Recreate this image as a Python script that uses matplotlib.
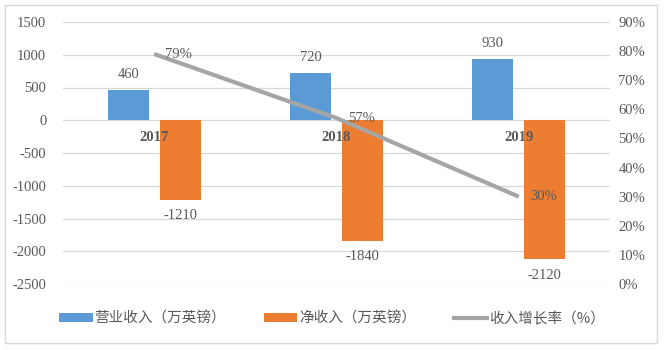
import matplotlib
matplotlib.use("Agg")
import matplotlib.pyplot as plt
import numpy as np
from matplotlib.lines import Line2D
from matplotlib.patches import Patch, Rectangle

years = ["2017", "2018", "2019"]
revenue = [460, 720, 930]          # 营业收入（万英镑）
net_income = [-1210, -1840, -2120]  # 净收入（万英镑）
growth = [79, 57, 30]              # 收入增长率（%）

left_ticks = [-2500, -2000, -1500, -1000, -500, 0, 500, 1000, 1500]
right_ticks = [0, 10, 20, 30, 40, 50, 60, 70, 80, 90]

BLUE = "#5B9BD5"
ORANGE = "#ED7D31"
GRAY = "#A5A5A5"
TXT = "#595959"
GRID = "#D9D9D9"
SERIF = ["Liberation Serif", "DejaVu Serif"]
CJK = ["Noto Sans CJK SC", "DejaVu Sans"]

fig = plt.figure(figsize=(6.66, 3.5), dpi=100)
ax = fig.add_axes([63 / 666, 1 - 284 / 350, 547 / 666, 262 / 350])
ax2 = ax.twinx()

x = np.arange(len(years))
w = 0.225
gap = 0.03
ax.bar(x - w / 2 - gap, revenue, w, color=BLUE, zorder=3)
ax.bar(x + w / 2 + gap, net_income, w, color=ORANGE, zorder=3)

ax.set_xlim(-0.5, 2.5)
ax.set_ylim(-2500, 1500)
ax.set_yticks(left_ticks)
ax.set_yticklabels([str(t) for t in left_ticks], family=SERIF, fontsize=10.5, color=TXT)
ax.tick_params(axis="y", length=0, pad=12)
ax.set_xticks([])
ax.grid(axis="y", color=GRID, linewidth=0.9, zorder=0)
for s in ax.spines.values():
    s.set_visible(False)

# value labels on bars
for xi, v in zip(x, revenue):
    ax.annotate(str(v), (xi - w / 2 - gap, v), xytext=(0, 6.5), textcoords="offset points",
                ha="center", va="bottom", family=SERIF, fontsize=10.5, color=TXT, zorder=5)
for xi, v in zip(x, net_income):
    ax.annotate(str(v), (xi + w / 2 + gap, v), xytext=(0, -7), textcoords="offset points",
                ha="center", va="top", family=SERIF, fontsize=10.5, color=TXT, zorder=5)

# category labels sit just below the zero line
for xi, y in zip(x, years):
    ax.text(xi, -265, y, ha="center", va="center", family=SERIF, fontsize=10.5,
            fontweight="bold", color=TXT, zorder=6)

ax2.plot(x, growth, color=GRAY, linewidth=3, solid_capstyle="butt", zorder=4)
for xi, g in zip(x, growth):
    ax2.annotate(f"{g}%", (xi, g), xytext=(8, 0), textcoords="offset points",
                 ha="left", va="center", family=SERIF, fontsize=10.5, color=TXT, zorder=6)
ax2.set_ylim(0, 90)
ax2.set_yticks(right_ticks)
ax2.set_yticklabels([f"{t}%" for t in right_ticks], family=SERIF, fontsize=10.5, color=TXT)
ax2.tick_params(axis="y", length=0, pad=6)
for s in ax2.spines.values():
    s.set_visible(False)

handles = [
    Patch(facecolor=BLUE, edgecolor="none"),
    Patch(facecolor=ORANGE, edgecolor="none"),
    Line2D([0], [0], color=GRAY, linewidth=3),
]
labels = ["营业收入（万英镑）", "净收入（万英镑）", "收入增长率（%）"]
leg = fig.legend(handles, labels, loc="center", bbox_to_anchor=(332 / 666, 1 - 319 / 350),
                 ncol=3, frameon=False, prop={"family": CJK, "size": 10.5},
                 handlelength=2.3, handleheight=0.55, handletextpad=0.1, columnspacing=2.6)
for t in leg.get_texts():
    t.set_color(TXT)

fig.patches.append(Rectangle((5 / 666, 7 / 350), 652 / 666, 338 / 350, transform=fig.transFigure,
                             fill=False, edgecolor=GRID, linewidth=1))

fig.savefig("out.png", dpi=100, facecolor="white")
